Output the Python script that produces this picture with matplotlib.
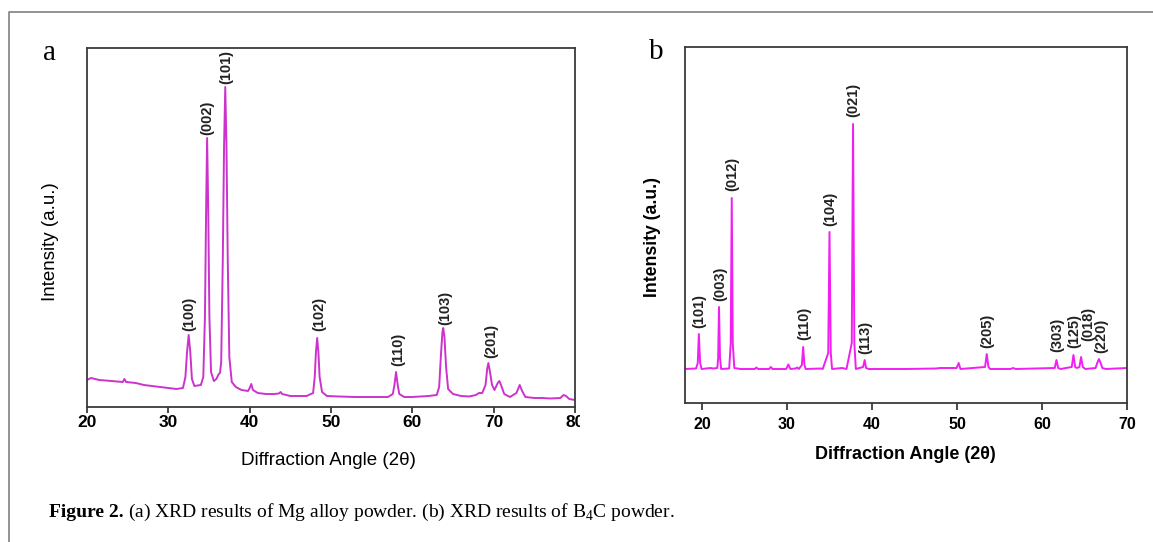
import numpy as np
import matplotlib
matplotlib.use('Agg')
import matplotlib.pyplot as plt
from matplotlib.lines import Line2D
from matplotlib.transforms import Bbox, TransformedBbox

plt.rcParams['font.family'] = ['Liberation Sans', 'DejaVu Sans']
plt.rcParams['mathtext.fontset'] = 'custom'
plt.rcParams['mathtext.rm'] = 'Liberation Serif'

# (a) Mg alloy powder, pattern
mg_angle = [20.0, 20.5, 21.5, 23.0, 24.4, 24.6, 24.8, 26.0, 27.0, 28.0, 29.0, 30.0,
            31.0, 31.8, 32.1, 32.3, 32.5, 32.7, 32.9, 33.2, 34.0, 34.3, 34.5, 34.65,
            34.77, 34.9, 35.05, 35.25, 35.6, 35.9, 36.2, 36.35, 36.5, 36.7, 36.85, 37.0,
            37.15, 37.3, 37.5, 37.8, 38.3, 39.0, 39.8, 40.0, 40.2, 40.4, 41.0, 42.0,
            43.0, 43.6, 43.8, 44.0, 45.0, 46.0, 47.0, 47.8, 48.0, 48.15, 48.3, 48.45,
            48.6, 48.9, 49.5, 51.0, 53.0, 55.0, 57.0, 57.6, 57.8, 58.0, 58.2, 58.4,
            59.0, 60.0, 61.0, 62.0, 63.0, 63.3, 63.5, 63.7, 63.8, 63.95, 64.15, 64.4,
            65.0, 66.0, 67.0, 67.8, 68.2, 68.6, 69.0, 69.2, 69.35, 69.55, 69.8, 70.1,
            70.5, 70.7, 70.9, 71.3, 72.0, 72.8, 73.2, 73.5, 73.9, 75.0, 76.0, 77.0,
            78.2, 78.6, 78.9, 79.3, 80.0]
mg_int = [27, 29, 27, 26, 25, 28, 25, 24, 22, 21, 20, 19,
          18, 19, 30, 55, 72, 55, 28, 21, 22, 30, 90, 200,
          269, 200, 90, 35, 26, 28, 33, 34, 45, 150, 260, 320,
          260, 150, 50, 25, 20, 17, 16, 19, 23, 17, 14, 13,
          13, 13.5, 15, 13, 11, 11, 11, 14, 30, 55, 69, 55,
          30, 15, 11, 10.5, 10, 10, 10, 13, 22, 35, 22, 13,
          10, 10, 10.5, 11, 12, 20, 50, 75, 79, 70, 40, 18,
          13, 11, 10.5, 12, 14, 14, 22, 38, 44, 35, 22, 17,
          24, 26, 22, 13, 10, 14, 22, 16, 10, 9, 9, 8.5,
          9, 12, 11, 8, 7]
mg_hkl = ['(100)', '(002)', '(101)', '(102)', '(110)', '(103)', '(201)']
mg_lab_x = [32.6, 34.8, 37.1, 48.5, 58.3, 64.0, 69.7]
mg_lab_y = [76, 272, 323, 76, 41, 82, 49]

# (b) B4C powder
bc_angle = [18.0, 19.3, 19.5, 19.63, 19.78, 19.95, 21.0, 21.3, 21.8, 21.9, 22.0, 22.12,
            22.25, 23.2, 23.38, 23.5, 23.62, 23.8, 24.5, 26.2, 26.4, 26.6, 27.9, 28.1,
            28.3, 29.9, 30.16, 30.4, 31.0, 31.2, 31.4, 31.75, 31.9, 32.05, 32.2, 34.0,
            34.2, 34.85, 35.0, 35.15, 35.3, 36.5, 37.0, 37.62, 37.77, 37.92, 38.1, 38.95,
            39.14, 39.3, 39.6, 44.0, 47.5, 48.0, 49.95, 50.2, 50.4, 53.3, 53.5, 53.7,
            53.9, 56.3, 56.6, 56.9, 61.5, 61.7, 61.9, 62.2, 62.8, 63.5, 63.7, 63.9,
            64.1, 64.4, 64.6, 64.8, 65.1, 66.3, 66.5, 66.7, 66.9, 67.1, 67.5, 70.0]
bc_int = [34, 34.5, 40, 69, 40, 34, 35, 34.5, 35, 45, 96, 45,
          34, 34.5, 60, 205, 60, 35, 34, 34, 35.5, 34, 34, 36,
          34, 34, 38.5, 34, 34.5, 35.5, 34, 38, 56, 38, 34, 34.5,
          34, 50, 171, 50, 34, 35, 34, 60, 279, 60, 34, 36,
          43, 35, 34, 34, 34.5, 35, 35, 40, 34, 36, 49, 36,
          34, 34, 35, 34, 35, 43, 35, 34, 35, 36, 48, 36,
          35, 36, 46, 36, 34, 35, 40, 44, 40, 35, 34, 35]
bc_hkl = ['(101)', '(003)', '(012)', '(110)', '(104)', '(021)', '(113)', '(205)',
          '(303)', '(125)', '(018)', '(220)']
bc_lab_x = [19.7, 22.1, 23.6, 32.0, 35.1, 37.85, 39.25, 53.6, 61.8, 63.8, 65.5, 67.0]
bc_lab_y = [75, 102, 212, 63, 177, 286, 49, 55, 51, 55, 62, 50]

W, H = 1153, 542
fig = plt.figure(figsize=(W / 100, H / 100), dpi=100)


def px_box(left, top, right, bottom):
    return [left / W, (H - bottom) / H, (right - left) / W, (bottom - top) / H]


def style_axes(ax, xlim, ylim, ticks, tick_size, pad, tlen):
    ax.set_xlim(*xlim)
    ax.set_ylim(*ylim)
    ax.set_xticks(ticks)
    ax.set_yticks([])
    for s in ax.spines.values():
        s.set_color('#3a3a3a')
        s.set_linewidth(1.3)
    ax.tick_params(axis='x', direction='out', length=tlen, width=1.3, color='#3a3a3a',
                   pad=pad, labelsize=tick_size)
    for lbl in ax.get_xticklabels():
        lbl.set_fontweight('bold')


# panel a
ax1 = fig.add_axes(px_box(87, 48, 575, 407))
ax1.plot(mg_angle, mg_int, color='#cc33cc', lw=1.4)
style_axes(ax1, (20, 80), (0, 359), [20, 30, 40, 50, 60, 70, 80], 12.5, 1.5, 4)
for t, x, y in zip(mg_hkl, mg_lab_x, mg_lab_y):
    ax1.text(x, y, t, rotation=90, ha='center', va='bottom', fontsize=10.5,
             fontweight='bold', color='#222222')
ax1.set_xlabel('Diffraction Angle (2θ)', fontsize=13.5, va='center')
ax1.xaxis.set_label_coords(0.494, -0.148)
ax1.set_ylabel('Intensity (a.u.)', fontsize=13.5, va='center')
ax1.yaxis.set_label_coords(-0.075, 0.462)
# the "80" is cut off in the original layout
clip = TransformedBbox(Bbox([[0, 0], [580 / W, 1]]), fig.transFigure)
for tk in ax1.xaxis.get_major_ticks():
    tk.label1.set_clip_box(clip)
    tk.label1.set_clip_on(True)

# panel b
ax2 = fig.add_axes(px_box(685, 47, 1127, 403))
ax2.plot(bc_angle, bc_int, color='#f020f0', lw=1.4)
style_axes(ax2, (18, 70), (0, 356), [20, 30, 40, 50, 60, 70], 11.5, 5, 5)
for t, x, y in zip(bc_hkl, bc_lab_x, bc_lab_y):
    ax2.text(x, y, t, rotation=90, ha='center', va='bottom', fontsize=10.5,
             fontweight='bold', color='#222222')
ax2.set_xlabel('Diffraction Angle (2θ)', fontsize=13, fontweight='bold', va='center')
ax2.xaxis.set_label_coords(0.498, -0.146)
ax2.set_ylabel('Intensity (a.u.)', fontsize=12.7, fontweight='bold', va='center')
ax2.yaxis.set_label_coords(-0.0724, 0.466)

# panel letters
fig.text(49 / W, 1 - 53 / H, 'a', fontsize=21, family='Liberation Serif', ha='center', va='center')
fig.text(656 / W, 1 - 52 / H, 'b', fontsize=21, family='Liberation Serif', ha='center', va='center')

# outer frame (top and left edges only)
fig.add_artist(Line2D([9 / W, 9 / W, 1], [0, 1 - 12 / H, 1 - 12 / H],
                      transform=fig.transFigure, color='#8a8a8a', lw=1.3))

# caption, bold lead-in then plain text on the same baseline
base_y = 25 / H
t1 = fig.text(49 / W, base_y, 'Figure 2.', fontsize=14, fontweight='bold',
              family='Liberation Serif', ha='left', va='baseline')
r = fig.canvas.get_renderer()
x_end = t1.get_window_extent(renderer=r).x1 / W
fig.text(x_end + 4 / W, base_y,
         '(a) XRD results of Mg alloy powder. (b) XRD results of B$_4$C powder.',
         fontsize=14, family='Liberation Serif', ha='left', va='baseline')

fig.savefig('out.png', dpi=100)
